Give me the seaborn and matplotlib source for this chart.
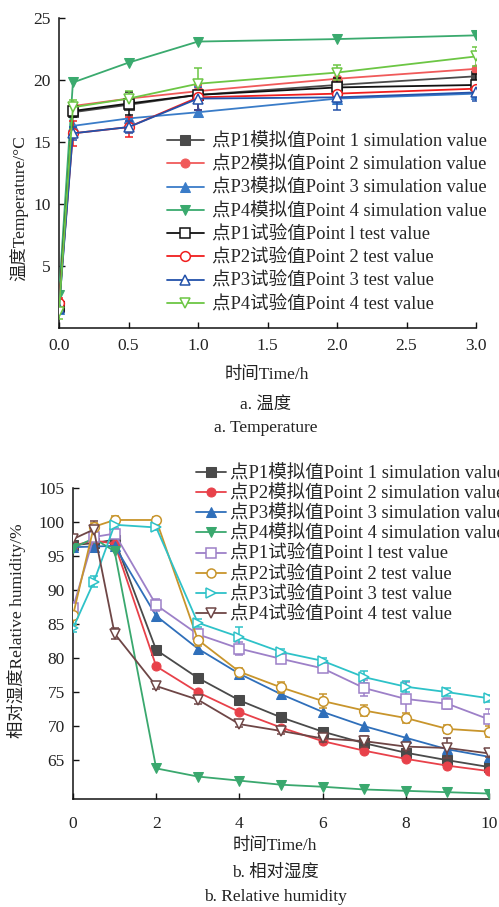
import numpy as np
import matplotlib
matplotlib.use('Agg')
import matplotlib.pyplot as plt
import seaborn as sns

# temperature panel
t_temp = [0, 0.1, 0.5, 1.0, 2.0, 3.0]
temp_sim = {
    'P1': [1.8, 17.4, 18.0, 18.8, 19.6, 20.3],
    'P2': [2.0, 17.9, 18.5, 19.1, 20.1, 20.9],
    'P3': [1.5, 16.3, 16.9, 17.4, 18.5, 18.9],
    'P4': [2.7, 19.8, 21.4, 23.1, 23.3, 23.6],
}
temp_test = {
    'P1': [1.7, 17.5, 18.1, 18.8, 19.4, 19.6],
    'P2': [2.0, 15.7, 16.2, 18.6, 18.9, 19.3],
    'P3': [1.6, 15.7, 16.2, 18.5, 18.6, 19.0],
    'P4': [1.3, 17.8, 18.5, 19.7, 20.6, 21.9],
}
temp_err = {
    'P1': [0.3, 0.5, 0.9, 1.2, 0.8, 0.9],
    'P2': [0.4, 1.0, 0.8, 1.0, 0.6, 0.6],
    'P3': [0.4, 0.5, 0.5, 0.9, 1.0, 0.7],
    'P4': [0.6, 0.6, 0.6, 1.3, 0.6, 0.8],
}

# relative humidity panel
t_rh = [0, 0.5, 1, 2, 3, 4, 5, 6, 7, 8, 9, 10]
rh_sim = {
    'P1': [96.6, 96.9, 97.4, 81.2, 77.1, 73.8, 71.3, 69.2, 67.5, 66.1, 65.0, 64.0],
    'P2': [96.5, 97.3, 96.8, 78.8, 75.0, 72.1, 69.8, 67.8, 66.4, 65.2, 64.2, 63.4],
    'P3': [96.3, 96.4, 96.5, 86.2, 81.4, 77.7, 74.7, 72.1, 70.0, 68.3, 66.6, 65.5],
    'P4': [96.2, 97.6, 95.7, 63.8, 62.6, 62.0, 61.4, 61.1, 60.7, 60.5, 60.3, 60.1],
}
rh_test = {
    'P1': [87.4, 97.8, 98.3, 87.8, 83.5, 81.4, 79.9, 78.5, 75.6, 74.0, 73.3, 71.0],
    'P2': [86.3, 99.3, 100.3, 100.3, 82.7, 78.0, 75.7, 73.7, 72.3, 71.2, 69.6, 69.2],
    'P3': [84.4, 91.2, 99.6, 99.2, 85.2, 83.1, 80.9, 79.6, 77.2, 75.8, 75.0, 74.1],
    'P4': [97.5, 98.9, 83.6, 75.9, 73.9, 70.3, 69.3, 68.2, 67.8, 67.0, 66.8, 66.0],
}
rh_err = {
    'P1': [0.8, 0.6, 0.6, 0.9, 0.8, 1.0, 0.5, 0.5, 1.2, 2.5, 0.8, 1.5],
    'P2': [1.5, 0.6, 0.6, 0.5, 0.9, 0.5, 0.8, 1.0, 0.8, 0.8, 0.6, 0.8],
    'P3': [0.6, 0.8, 0.5, 0.4, 0.6, 1.5, 0.4, 0.4, 0.9, 0.8, 0.6, 0.5],
    'P4': [0.5, 1.2, 0.8, 0.5, 0.6, 0.4, 0.4, 0.5, 0.8, 0.5, 1.5, 0.5],
}

points = ['P1', 'P2', 'P3', 'P4']
sim_labels = ['点P1模拟值Point 1 simulation value', '点P2模拟值Point 2 simulation value',
              '点P3模拟值Point 3 simulation value', '点P4模拟值Point 4 simulation value']
test_labels = ['点P1试验值Point l test value', '点P2试验值Point 2 test value',
               '点P3试验值Point 3 test value', '点P4试验值Point 4 test value']
sim_markers = ['s', 'o', '^', 'v']
test_markers_a = ['s', 'o', '^', 'v']
test_markers_b = ['s', 'o', '>', 'v']

sim_colors_a = ['#4a4a4a', '#f05a5a', '#3a7cc8', '#3aaa6e']
test_colors_a = ['#111111', '#f01e1e', '#2352aa', '#6cc644']
sim_colors_b = ['#4a4a4a', '#e8414a', '#2f6fba', '#3aa86e']
test_colors_b = ['#9d80c8', '#c8952c', '#2ec2c8', '#6e4646']

sns.set_theme(style='ticks')
plt.rcParams['font.family'] = ['Liberation Serif', 'Noto Sans CJK SC']
plt.rcParams['axes.unicode_minus'] = False
FS = 12.5
LFS = 13.3

fig = plt.figure(figsize=(4.99, 9.07), dpi=100)
W, H = 499.0, 907.0


def px_axes(l, t, r, b):
    return fig.add_axes([l / W, 1 - b / H, (r - l) / W, (b - t) / H])


def draw(ax, t, sim, test, err, scol, tcol, tmarks):
    for i, p in enumerate(points):
        sns.lineplot(x=t, y=sim[p], ax=ax, color=scol[i], marker=sim_markers[i],
                     markersize=6.5, markeredgecolor=scol[i], linewidth=1.3,
                     label=sim_labels[i], errorbar=None, zorder=3)
    for i, p in enumerate(points):
        ax.errorbar(t, test[p], yerr=err[p], fmt='none', ecolor=tcol[i],
                    elinewidth=1.1, capsize=3, capthick=1.1, zorder=4)
        sns.lineplot(x=t, y=test[p], ax=ax, color=tcol[i], marker=tmarks[i],
                     markersize=7, markerfacecolor='white', markeredgecolor=tcol[i],
                     markeredgewidth=1.1, linewidth=1.3, label=test_labels[i],
                     errorbar=None, zorder=5)
    sns.despine(ax=ax)
    for s in ['left', 'bottom']:
        ax.spines[s].set_color('#111111')
        ax.spines[s].set_linewidth(1.1)
    ax.tick_params(direction='in', length=4, width=1, labelsize=FS, colors='#111111',
                   labelcolor='#222222')
    ax.tick_params(axis='y', pad=6)
    ax.set_xlabel('')
    ax.set_ylabel('')


# panel a
ax1 = px_axes(59, 18, 476, 328)
draw(ax1, t_temp, temp_sim, temp_test, temp_err, sim_colors_a, test_colors_a, test_markers_a)
ax1.set_xlim(0, 3)
ax1.set_ylim(0, 25)
ax1.set_xticks(np.arange(0, 3.01, 0.5))
ax1.set_xticklabels(['%.1f' % v for v in np.arange(0, 3.01, 0.5)])
ax1.set_yticks([5, 10, 15, 20, 25])
ax1.tick_params(axis='x', pad=7)
ax1.legend(loc='upper left', bbox_to_anchor=(167 / W, 1 - 133 / H),
           bbox_transform=fig.transFigure, frameon=False, fontsize=LFS,
           borderpad=0, borderaxespad=0, handlelength=2.0, handletextpad=0.45,
           labelspacing=0.32)

# panel b
ax2 = px_axes(73, 488, 489, 799)
draw(ax2, t_rh, rh_sim, rh_test, rh_err, sim_colors_b, test_colors_b, test_markers_b)
ax2.set_xlim(0, 10)
ax2.set_ylim(59.3, 105)
ax2.set_xticks([0, 2, 4, 6, 8, 10])
ax2.set_yticks([65, 70, 75, 80, 85, 90, 95, 100, 105])
ax2.tick_params(axis='x', pad=12)
ax2.legend(loc='upper left', bbox_to_anchor=(196 / W, 1 - 465 / H),
           bbox_transform=fig.transFigure, frameon=False, fontsize=LFS,
           borderpad=0, borderaxespad=0, handlelength=1.6, handletextpad=0.25,
           labelspacing=0.15)
for lh in ax2.get_legend().get_lines():
    lh.set_markersize(6.5)

tc = '#222222'
fig.text(19 / W, 1 - 208 / H, '温度Temperature/°C', rotation=90, ha='center', va='center',
         fontsize=FS, color=tc)
fig.text(267 / W, 1 - 375 / H, '时间Time/h', ha='center', va='center', fontsize=FS, color=tc)
fig.text(266 / W, 1 - 406 / H, 'a. 温度', ha='center', va='center', fontsize=FS, color=tc)
fig.text(266 / W, 1 - 428 / H, 'a. Temperature', ha='center', va='center', fontsize=FS, color=tc)

fig.text(17 / W, 1 - 631 / H, '相对湿度Relative humidity/%', rotation=90, ha='center',
         va='center', fontsize=FS, color=tc)
fig.text(275 / W, 1 - 846 / H, '时间Time/h', ha='center', va='center', fontsize=FS, color=tc)
fig.text(275 / W, 1 - 873 / H, 'b. 相对湿度', ha='center', va='center', fontsize=FS, color=tc)
fig.text(275 / W, 1 - 897 / H, 'b. Relative humidity', ha='center', va='center', fontsize=FS, color=tc)

fig.savefig('out.png', dpi=100)
